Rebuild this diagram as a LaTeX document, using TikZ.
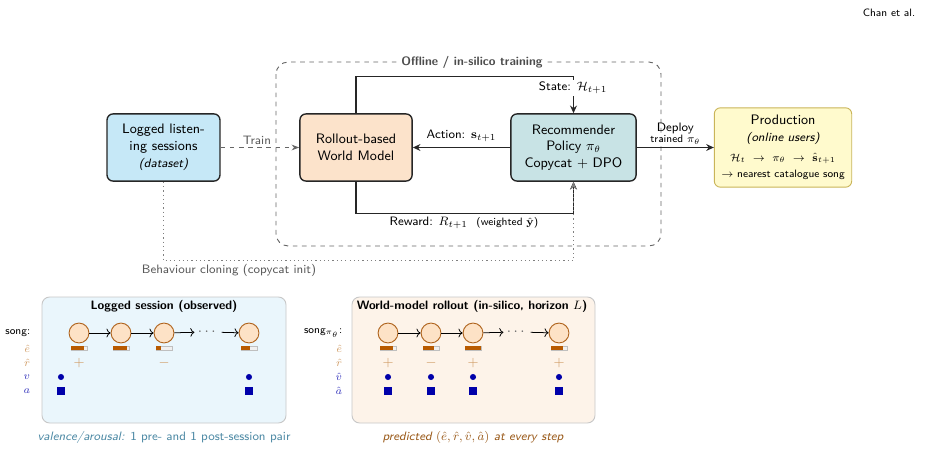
\documentclass[tikz,border=0pt]{standalone}
\usepackage{amsmath,amssymb,bm}
\usepackage{xcolor}
\usetikzlibrary{positioning,arrows.meta,calc}
\definecolor{logblue}{HTML}{C6E8F7}
\definecolor{wmorange}{HTML}{FCE3CB}
\definecolor{polteal}{HTML}{C8E3E5}
\definecolor{prodyel}{HTML}{FFFACD}
\definecolor{prodgold}{HTML}{C9B458}
\definecolor{songfill}{HTML}{FDE2C6}
\definecolor{songedge}{HTML}{B0651F}
\definecolor{engfill}{HTML}{B85A00}
\definecolor{rewtan}{HTML}{CF9A62}
\definecolor{vablue}{HTML}{0000AA}
\definecolor{panelblue}{HTML}{EAF6FC}
\definecolor{panelorange}{HTML}{FDF3E9}
\definecolor{captteal}{HTML}{4E8AA5}
\definecolor{captbrown}{HTML}{9A5A1A}
\tikzset{
  stage/.style   ={draw=black!85, line width=0.9pt, rounded corners=4pt,
                   align=center, font=\sffamily\small, inner sep=2pt,
                   minimum height=44pt},
  lab/.style     ={font=\sffamily\footnotesize, inner sep=1.5pt},
  loopflow/.style={draw=black!85, line width=0.8pt, -{Stealth[length=5pt,width=4.5pt]}},
  trainflow/.style={draw=black!60, line width=0.7pt, dashed, -{Stealth[length=5pt]}},
  cloneflow/.style={draw=black!50, line width=0.8pt, dotted, -{Stealth[length=5pt]}},
  panel/.style   ={draw=black!22, line width=0.6pt, rounded corners=5pt},
  ptitle/.style  ={font=\sffamily\footnotesize\bfseries},
  rowlab/.style  ={font=\scriptsize, anchor=east, inner sep=1pt},
  song/.style    ={circle, draw=songedge, fill=songfill, line width=0.6pt,
                   minimum size=13pt, inner sep=0pt},
  songlink/.style={->, line width=0.5pt},
  rsign/.style   ={font=\small, text=rewtan, inner sep=0pt},
  vdot/.style    ={circle, fill=vablue, minimum size=4pt, inner sep=0pt},
  asq/.style     ={rectangle, fill=vablue, minimum size=4.6pt, inner sep=0pt},
  barframe/.style={draw=black!25, fill=black!6, line width=0.3pt},
}
% engagement bar: x, y, filled fraction
\newcommand{\engbar}[3]{%
  \draw[barframe] ({#1-8},{#2-2}) rectangle ({#1+8},{#2+2});
  \fill[engfill] ({#1-8},{#2-2}) rectangle ({#1-8+16*#3},{#2+2});}
\def\loggedsongs{1/79/0.8, 2/121/0.9, 3/164/0.3, 4/249/0.55}
\def\rolloutsongs{1/388/0.83, 2/431/0.67, 3/473/1.0, 4/559/0.78}
\begin{document}
\begin{tikzpicture}[x=0.655pt, y=-0.655pt]
\useasboundingbox (0,0) rectangle (937,451);
\node[font=\sffamily\scriptsize] (runhead) at (889,13) {Chan et al.};

% offline training frame
\draw[dashed, draw=black!60, line width=0.6pt, rounded corners=8pt]
  (276,62) rectangle (661,246);
\node[font=\sffamily\footnotesize\bfseries, text=black!70, fill=white,
  inner sep=2pt] (offtitle) at (472,62) {Offline / in-silico training};

\node[stage, fill=logblue, minimum width=74pt] (logged) at (163.5,147.5)
  {Logged listen-\\ing sessions\\{\footnotesize\itshape (dataset)}};
\node[stage, fill=wmorange, minimum width=73.5pt] (wm) at (356,147.5)
  {Rollout-based\\World Model};
\node[stage, fill=polteal, minimum width=82pt] (pol) at (573.5,147.5)
  {Recommender\\Policy $\pi_\theta$\\Copycat + DPO};
\node[stage, draw=prodgold, line width=0.6pt, fill=prodyel, minimum width=90pt,
  minimum height=52pt] (prod) at (783,147.5)
  {Production\\{\footnotesize\itshape (online users)}\\[2pt]
   {\scriptsize $\mathcal{H}_t\ \to\ \pi_\theta\ \to\ \hat{\mathbf{s}}_{t+1}$}\\
   {\scriptsize $\to$ nearest catalogue song}};

\draw[loopflow] (wm.north) -- ++(0,-37) -| (pol.north);
\node[lab, fill=white] (statelab) at (573,88) {State: $\mathcal{H}_{t+1}$};
\draw[loopflow] (pol.west) -- node[lab, above=2pt] (actlab)
  {Action: $\mathbf{s}_{t+1}$} (wm.east);
\draw[loopflow] (wm.south) -- ++(0,32) -| (pol.south);
\node[lab] (rewlab) at (464,223)
  {Reward: $R_{t+1}$\ \ {\scriptsize(weighted $\hat{\mathbf{y}}$)}};
\draw[trainflow] (logged.east) -- node[lab, above, xshift=-2pt, text=black!65]
  (trainlab) {Train} (wm.west);
\draw[cloneflow] (logged.south) -- ++(0,79) -| (pol.south);
\node[lab, text=black!65] (clonelab) at (229,270)
  {Behaviour cloning (copycat init)};
\draw[loopflow] (pol.east) -- node[lab, above, align=center] (deplab)
  {Deploy\\[-2pt]{\scriptsize trained $\pi_\theta$}} (prod.west);

% logged session panel
\draw[panel, fill=panelblue] (42,297) rectangle (286,423);
\node[ptitle] (ltitle) at (164,306) {Logged session (observed)};
\node[rowlab] (lsong) at (32,333) {\sffamily song:};
\node[rowlab, text=rewtan] (leng) at (32,349) {$\hat{e}$};
\node[rowlab, text=rewtan] (lrew) at (32,363) {$\hat{r}$};
\node[rowlab, text=vablue!80] (lval) at (32,377) {$v$};
\node[rowlab, text=vablue!80] (laro) at (32,391) {$a$};
\foreach \i/\x/\fr in \loggedsongs {
  \node[song] (ls\i) at (\x,333) {};
  \engbar{\x}{348}{\fr}
}
\node[text=black!60, inner sep=2pt] (ldots) at (208,332) {$\cdots$};
\foreach \a/\b in {ls1/ls2, ls2/ls3, ls3/ldots, ldots/ls4}
  \draw[songlink] (\a) -- (\b);
\node[rsign] (lr1) at (79,363) {$+$};
\node[rsign] (lr3) at (164,363) {$-$};
\foreach \n/\x in {pre/61, post/249} {
  \node[vdot] (lv\n) at (\x,377) {};
  \node[asq] (la\n) at (\x,391) {};
}
\node[font=\sffamily\footnotesize, text=captteal] (lcapt) at (164,437)
  {\itshape valence/arousal:\upshape{} 1 pre- and 1 post-session pair};

% world-model rollout panel
\draw[panel, fill=panelorange] (352,297) rectangle (595,423);
\node[ptitle] (rtitle) at (472,306) {World-model rollout (in-silico, horizon $L$)};
\node[rowlab] (rsong) at (344,333) {\sffamily song$_{\pi_\theta}$:};
\node[rowlab, text=rewtan] (reng) at (344,349) {$\hat{e}$};
\node[rowlab, text=rewtan] (rrew) at (344,363) {$\hat{r}$};
\node[rowlab, text=vablue!80] (rval) at (344,377) {$\hat{v}$};
\node[rowlab, text=vablue!80] (raro) at (344,391) {$\hat{a}$};
\foreach \i/\x/\fr in \rolloutsongs {
  \node[song] (rs\i) at (\x,333) {};
  \engbar{\x}{348}{\fr}
  \node[vdot] (rv\i) at (\x,377) {};
  \node[asq] (ra\i) at (\x,391) {};
}
\node[text=black!60, inner sep=2pt] (rdots) at (517,332) {$\cdots$};
\foreach \a/\b in {rs1/rs2, rs2/rs3, rs3/rdots, rdots/rs4}
  \draw[songlink] (\a) -- (\b);
\foreach \i/\x/\s in {1/388/+, 2/431/-, 3/473/+, 4/559/+}
  \node[rsign] (rr\i) at (\x,363) {$\s$};
\node[font=\sffamily\footnotesize, text=captbrown] (rcapt) at (473,437)
  {\itshape predicted $(\hat{e},\hat{r},\hat{v},\hat{a})$ at every step};
\end{tikzpicture}
\end{document}
